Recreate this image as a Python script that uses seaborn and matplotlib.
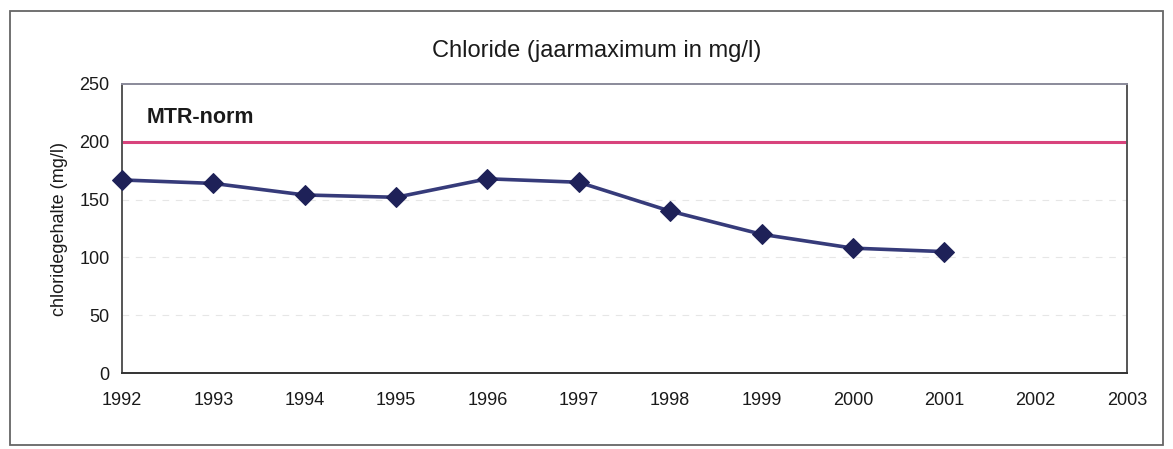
import matplotlib
matplotlib.use("Agg")
import matplotlib.pyplot as plt
import seaborn as sns
import pandas as pd
from matplotlib.patches import Rectangle

years = [1992, 1993, 1994, 1995, 1996, 1997, 1998, 1999, 2000, 2001]
chloride = [167, 164, 154, 152, 168, 165, 140, 120, 108, 105]
mtr_norm = 200
x_ticks = list(range(1992, 2004))
y_ticks = [0, 50, 100, 150, 200, 250]

sns.set_theme(style="white")
plt.rcParams['font.family'] = ['Liberation Sans', 'DejaVu Sans']

fig = plt.figure(figsize=(11.73, 4.49), dpi=100)
ax = fig.add_axes([122/1173, 1 - 373/449, (1127 - 122)/1173, (373 - 84)/449])

df = pd.DataFrame({"jaar": years, "chloride": chloride})

for yv in [50, 100, 150]:
    ax.axhline(yv, color="#e6e6e6", lw=0.8, ls=(0, (6, 6)), zorder=0)

ax.axhline(mtr_norm, color="#d8437c", lw=2.2, zorder=2)
sns.lineplot(data=df, x="jaar", y="chloride", ax=ax, color="#363b7a", lw=2.6,
             marker="D", markersize=10, markerfacecolor="#1e2158",
             markeredgecolor="#1e2158", zorder=3, clip_on=False)

ax.set_xlim(1992, 2003)
ax.set_ylim(0, 250)
ax.set_xticks(x_ticks)
ax.set_xticklabels([str(v) for v in x_ticks], fontsize=13, color="#1a1a1a")
ax.set_yticks(y_ticks)
ax.set_yticklabels([str(v) for v in y_ticks], fontsize=13, color="#1a1a1a")
ax.tick_params(axis="x", direction="out", length=4, width=1, color="#444444", pad=10)
ax.tick_params(axis="y", direction="out", length=4, width=1, color="#444444", pad=5)
ax.set_xlabel("")
ax.set_ylabel("chloridegehalte (mg/l)", fontsize=13, color="#1a1a1a", labelpad=8)

for side, col in [("left", "#555555"), ("bottom", "#333333"), ("top", "#8a8a9a"), ("right", "#555555")]:
    ax.spines[side].set_visible(True)
    ax.spines[side].set_color(col)
    ax.spines[side].set_linewidth(1.4)

ax.text(1992.27, 221, "MTR-norm", fontsize=15.5, fontweight="bold", color="#1a1a1a",
        ha="left", va="center")

fig.text(597/1173, 1 - 51/449, "Chloride (jaarmaximum in mg/l)", fontsize=17,
         ha="center", va="center", color="#1a1a1a")

fig.patches.append(Rectangle((10/1173, 1 - 445/449), (1163 - 10)/1173, (445 - 11)/449,
                             transform=fig.transFigure, fill=False,
                             edgecolor="#666666", lw=1.3))

fig.savefig("out.png", dpi=100, facecolor="white")
